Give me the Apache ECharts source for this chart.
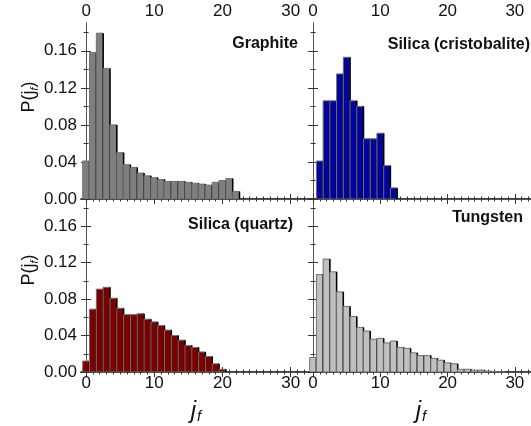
<!DOCTYPE html>
<html>
<head>
<meta charset="utf-8">
<script src="https://cdn.jsdelivr.net/npm/echarts@6/dist/echarts.min.js"></script>
<style>
  html, body { margin: 0; padding: 0; background: #fff; }
  #chart { width: 531px; height: 426px; }
</style>
</head>
<body>
<div id="chart"></div>
<script>
// Distribution P(j_f) over final rotational quantum number j_f, index = j_f
const graphite     = [0.041, 0.158, 0.179, 0.141, 0.080, 0.050, 0.037, 0.034, 0.028, 0.025, 0.023, 0.021, 0.019, 0.019, 0.019, 0.018, 0.017, 0.016, 0.015, 0.018, 0.020, 0.022, 0.008];
const cristobalite = [0, 0.041, 0.106, 0.106, 0.135, 0.153, 0.106, 0.100, 0.065, 0.065, 0.071, 0.036, 0.012];
const quartz       = [0.012, 0.069, 0.091, 0.093, 0.081, 0.070, 0.063, 0.063, 0.064, 0.058, 0.055, 0.051, 0.046, 0.040, 0.035, 0.029, 0.027, 0.022, 0.017, 0.009, 0.003];
const tungsten     = [0.016, 0.107, 0.124, 0.110, 0.088, 0.072, 0.061, 0.049, 0.045, 0.036, 0.037, 0.032, 0.034, 0.027, 0.026, 0.021, 0.018, 0.018, 0.015, 0.013, 0.010, 0.009, 0.003, 0.003, 0.002, 0.002, 0.001, 0.0005, 0.0003];

const panelTitles = ['Graphite', 'Silica (cristobalite)', 'Silica (quartz)', 'Tungsten'];
const xTickLabels = [0, 10, 20, 30];
const yTickLabels = [0, 0.04, 0.08, 0.12, 0.16];
const yMinorTicks = [0.02, 0.06, 0.10, 0.14, 0.18];

const FONT = "'Liberation Sans', Arial, Helvetica, sans-serif";
const X_MIN = -0.75, X_MAX = 32.4, Y_MAX = 0.19;
const xMinorTicks = [];
for (let k = 0; k <= 32; k++) xMinorTicks.push(k);

const panels = [
  { values: graphite,     fill: '#7f7f7f', grid: { left: 81,  top: 23,  width: 226, height: 176 }, xLabelsTop: true,  yLabels: true,  title: { x: 298, y: 44 } },
  { values: cristobalite, fill: '#02029c', grid: { left: 308, top: 23,  width: 224, height: 176 }, xLabelsTop: true,  yLabels: false, title: { x: 530, y: 45 } },
  { values: quartz,       fill: '#7a0000', grid: { left: 81,  top: 199, width: 226, height: 173 }, xLabelsTop: false, yLabels: true,  title: { x: 293, y: 225 } },
  { values: tungsten,     fill: '#c0c0c0', grid: { left: 308, top: 199, width: 224, height: 173 }, xLabelsTop: false, yLabels: false, title: { x: 523, y: 218 } }
];

const frameLine = { show: true, lineStyle: { color: '#555', width: 1 } };
const labelStyle = { color: '#111', fontFamily: FONT, fontSize: 17 };

function xAxisPair(gi, position, showLabels, isZeroAxis) {
  const line = isZeroAxis ? { show: true, lineStyle: { color: '#000', width: 1.6 } } : frameLine;
  return [
    {
      type: 'value', gridIndex: gi, position, min: X_MIN, max: X_MAX,
      axisLine: line,
      axisTick: { show: true, inside: true, length: 2.5, customValues: xMinorTicks, lineStyle: { color: '#333', width: 1 } },
      axisLabel: showLabels ? Object.assign({ show: true, margin: 3, customValues: xTickLabels }, labelStyle) : { show: false },
      splitLine: { show: false }
    },
    {
      type: 'value', gridIndex: gi, position, min: X_MIN, max: X_MAX,
      axisLine: { show: false },
      axisTick: { show: true, inside: true, length: 5, customValues: xTickLabels, lineStyle: { color: '#333', width: 1 } },
      axisLabel: { show: false },
      splitLine: { show: false }
    }
  ];
}

function yAxisPair(gi, position, showLabels) {
  return [
    {
      type: 'value', gridIndex: gi, position, min: 0, max: Y_MAX,
      axisLine: frameLine,
      axisTick: { show: true, inside: true, length: 5, customValues: yTickLabels, lineStyle: { color: '#333', width: 1 } },
      axisLabel: showLabels ? Object.assign({ show: true, margin: 4, customValues: yTickLabels, formatter: v => v.toFixed(2) }, labelStyle) : { show: false },
      splitLine: { show: false }
    },
    {
      type: 'value', gridIndex: gi, position, min: 0, max: Y_MAX,
      axisLine: { show: false },
      axisTick: { show: true, inside: true, length: 2.5, customValues: yMinorTicks, lineStyle: { color: '#333', width: 1 } },
      axisLabel: { show: false },
      splitLine: { show: false }
    }
  ];
}

function barRenderer(fill) {
  return function (params, api) {
    const j = api.value(0), v = api.value(1);
    const tl = api.coord([j - 0.5, v]);
    const br = api.coord([j + 0.5, 0]);
    return {
      type: 'group',
      children: [
        { type: 'rect', shape: { x: tl[0], y: tl[1], width: br[0] - tl[0], height: br[1] - tl[1] },
          style: { fill: fill, stroke: '#707070', lineWidth: 1 } },
        { type: 'line', shape: { x1: br[0], y1: tl[1], x2: br[0], y2: br[1] },
          style: { stroke: '#000', lineWidth: 1.5 } }
      ]
    };
  };
}

const grids = [], xAxes = [], yAxes = [], series = [], graphics = [];
panels.forEach((p, gi) => {
  grids.push(Object.assign({ containLabel: false }, p.grid));
  const xBase = xAxes.length;
  xAxes.push(...xAxisPair(gi, 'bottom', !p.xLabelsTop, true));
  xAxes.push(...xAxisPair(gi, 'top', p.xLabelsTop, false));
  const yBase = yAxes.length;
  yAxes.push(...yAxisPair(gi, 'left', p.yLabels));
  yAxes.push(...yAxisPair(gi, 'right', false));
  series.push({
    type: 'custom',
    xAxisIndex: xBase, yAxisIndex: yBase,
    renderItem: barRenderer(p.fill),
    encode: { x: 0, y: 1 },
    clip: true,
    z: 1,
    data: p.values.map((v, j) => [j, v]).filter(d => d[1] > 0)
  });
  graphics.push({
    type: 'text', x: p.title.x, y: p.title.y, z: 10,
    style: { text: panelTitles[gi], fill: '#111', font: 'bold 16px ' + FONT, align: 'right', verticalAlign: 'middle' }
  });
});

// Axis titles: P(j_f) on the left column, j_f below the bottom row
const yTitleStyle = {
  text: '{a|P(j}{s|f}{a|)}',
  align: 'center', verticalAlign: 'middle',
  rich: {
    a: { fontFamily: FONT, fontSize: 18, fill: '#111', lineHeight: 22 },
    s: { fontFamily: FONT, fontSize: 11, fontStyle: 'italic', fill: '#111', lineHeight: 22, verticalAlign: 'bottom', padding: [9, 0, 0, 0] }
  }
};
[97, 270].forEach(cy => graphics.push({ type: 'text', x: 29, y: cy, rotation: Math.PI / 2, style: Object.assign({}, yTitleStyle) }));

const xTitleStyle = {
  text: '{j|j}{s|f}',
  align: 'center', verticalAlign: 'middle',
  rich: {
    j: { fontFamily: FONT, fontSize: 24, fontStyle: 'italic', fill: '#111', lineHeight: 26 },
    s: { fontFamily: FONT, fontSize: 15, fontStyle: 'italic', fill: '#111', lineHeight: 26, verticalAlign: 'bottom', padding: [11, 0, 0, 1] }
  }
};
[196, 421].forEach(cx => graphics.push({ type: 'text', x: cx, y: 411, style: Object.assign({}, xTitleStyle) }));

const chart = echarts.init(document.getElementById('chart'), null, { renderer: 'canvas' });
chart.setOption({
  animation: false,
  backgroundColor: '#fff',
  grid: grids,
  xAxis: xAxes,
  yAxis: yAxes,
  series: series,
  graphic: graphics
});
</script>
</body>
</html>
